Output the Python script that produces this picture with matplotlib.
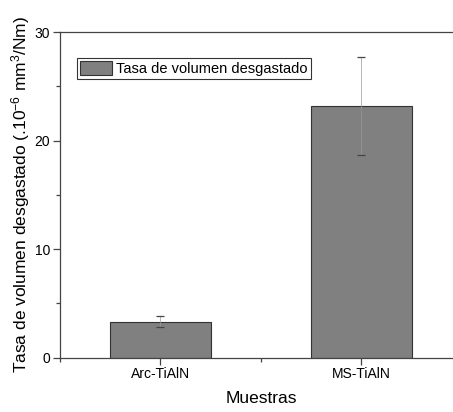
import matplotlib.pyplot as plt
from matplotlib.ticker import MultipleLocator

plt.rcParams['font.family'] = ['Liberation Sans', 'DejaVu Sans']
plt.rcParams['mathtext.fontset'] = 'custom'
plt.rcParams['mathtext.rm'] = 'Liberation Sans'
plt.rcParams['mathtext.it'] = 'Liberation Sans'

# datos
muestras = ['Arc-TiAlN', 'MS-TiAlN']
tasa = [3.3, 23.2]
error = [0.5, 4.5]
posiciones = [1, 2]

fig = plt.figure(figsize=(4.53, 4.12), dpi=100)
ax = fig.add_axes([0.1325, 0.1318, 0.887, 0.7905])

ax.bar(posiciones, tasa, width=0.5, color='#808080', edgecolor='#333333',
       linewidth=0.8, label='Tasa de volumen desgastado', zorder=2)
eb = ax.errorbar(posiciones, tasa, yerr=error, fmt='none', ecolor='#444444',
                 elinewidth=0.5, capsize=3, capthick=0.9, zorder=3)
# línea vertical casi invisible en la referencia
eb[2][0].set_color('#9a9a9a')

ax.set_xlim(0.5, 2.5)
ax.set_ylim(0, 30)
ax.set_xticks(posiciones)
ax.set_xticklabels(muestras)
ax.xaxis.set_minor_locator(MultipleLocator(0.5))
ax.yaxis.set_major_locator(MultipleLocator(10))
ax.yaxis.set_minor_locator(MultipleLocator(5))

for s in ax.spines.values():
    s.set_color('#444444')
    s.set_linewidth(0.9)

ax.tick_params(which='major', direction='out', length=5, width=0.9,
               color='#444444', labelsize=10, pad=2)
ax.tick_params(which='minor', direction='out', length=3, width=0.9, color='#444444')

ax.set_xlabel('Muestras', fontsize=12.5, labelpad=7)
ax.set_ylabel('Tasa de volumen desgastado (.10$^{-6}$ mm$^{3}$/Nm)', fontsize=12.5, labelpad=2)

leg = ax.legend(loc='upper left', bbox_to_anchor=(0.042, 0.92), fontsize=10.5,
                fancybox=False, frameon=True, edgecolor='black', borderpad=0.2,
                handlelength=2.2, handleheight=1.1, handletextpad=0.3,
                borderaxespad=0)
leg.get_frame().set_linewidth(0.8)

plt.savefig('out.png', dpi=100)
